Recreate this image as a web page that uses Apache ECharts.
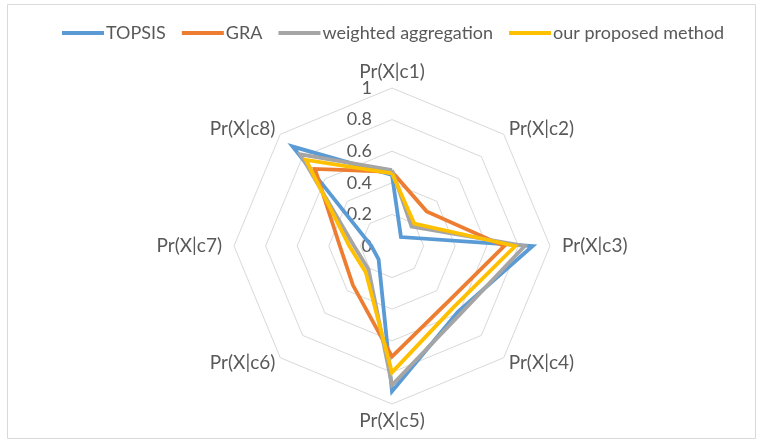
<!DOCTYPE html>
<html>
<head>
<meta charset="utf-8">
<script src="https://cdn.jsdelivr.net/npm/echarts@6/dist/echarts.min.js"></script>
<style>
  html, body { margin: 0; padding: 0; background: #fff; }
  #chart { width: 762px; height: 444px; }
</style>
</head>
<body>
<div id="chart"></div>
<script>
// Criteria, listed clockwise from the top
const criteria = ['Pr(X|c1)', 'Pr(X|c2)', 'Pr(X|c3)', 'Pr(X|c4)',
                  'Pr(X|c5)', 'Pr(X|c6)', 'Pr(X|c7)', 'Pr(X|c8)'];

// Scores per method, in the same order as the criteria
const topsis   = [0.45, 0.08, 0.89, 0.59, 0.92, 0.12, 0.13, 0.89];
const gra      = [0.47, 0.31, 0.71, 0.50, 0.70, 0.35, 0.33, 0.69];
const weighted = [0.48, 0.175, 0.84, 0.61, 0.88, 0.21, 0.24, 0.82];
const proposed = [0.46, 0.20, 0.78, 0.55, 0.80, 0.235, 0.27, 0.77];

const methodNames = ['TOPSIS', 'GRA', 'weighted aggregation', 'our proposed method'];
const methodColors = ['#5B9BD5', '#ED7D31', '#A5A5A5', '#FFC000'];

// Radial scale ticks
const tickMin = 0, tickMax = 1, tickStep = 0.2;

const FONT = 'Lato';
const TEXT = '#595959';
const CX = 392, CY = 246, R = 158;

// ECharts places radar indicators counter-clockwise, so walk the list backwards
const order = [0, 7, 6, 5, 4, 3, 2, 1];
const indicators = order.map(i => ({ name: criteria[i], min: tickMin, max: tickMax }));
const arrange = arr => order.map(i => arr[i]);

// names on the horizontal spokes sit a little further out
const sideNames = new Set([criteria[2], criteria[6]]);

const seriesValues = [topsis, gra, weighted, proposed];

const chart = echarts.init(document.getElementById('chart'), null, { renderer: 'canvas' });

chart.setOption({
  backgroundColor: '#ffffff',
  animation: false,
  textStyle: { fontFamily: FONT },
  graphic: [{
    type: 'rect',
    shape: { x: 7.5, y: 4.5, width: 748, height: 434 },
    style: { fill: 'none', stroke: '#d9d9d9', lineWidth: 1 },
    silent: true,
    z: -10
  }],
  legend: {
    left: 57,
    top: 19,
    icon: 'rect',
    itemWidth: 42,
    itemHeight: 4,
    itemGap: 16,
    data: methodNames,
    textStyle: { color: TEXT, fontSize: 18, fontFamily: FONT, padding: [0, 0, 0, -3] }
  },
  radar: {
    center: [CX, CY],
    radius: R,
    startAngle: 90,
    shape: 'polygon',
    splitNumber: 5,
    indicator: indicators,
    axisName: {
      color: TEXT, fontSize: 19, fontFamily: FONT,
      formatter: name => sideNames.has(name) ? '{side|' + name + '}' : name,
      rich: { side: { color: TEXT, fontSize: 19, fontFamily: FONT, padding: [0, 5, 0, 5] } }
    },
    nameGap: 7,
    axisLine: { show: false },
    axisTick: { show: false },
    axisLabel: { show: false },
    splitArea: { show: false },
    splitLine: { lineStyle: { color: '#d9d9d9', width: 1 } }
  },
  // value scale drawn along the upward spoke
  grid: { left: CX, top: CY - R, width: 1, height: R, containLabel: false },
  xAxis: { type: 'value', show: false },
  yAxis: {
    type: 'value',
    min: tickMin,
    max: tickMax,
    interval: tickStep,
    axisLine: { show: false },
    axisTick: { show: false },
    splitLine: { show: false },
    axisLabel: { color: TEXT, fontSize: 18, fontFamily: FONT, margin: 20 }
  },
  series: [{
    type: 'radar',
    symbol: 'none',
    data: seriesValues.map((vals, k) => ({
      name: methodNames[k],
      value: arrange(vals),
      itemStyle: { color: methodColors[k] },
      lineStyle: { color: methodColors[k], width: 3.8, join: 'miter' }
    }))
  }]
});
</script>
</body>
</html>
